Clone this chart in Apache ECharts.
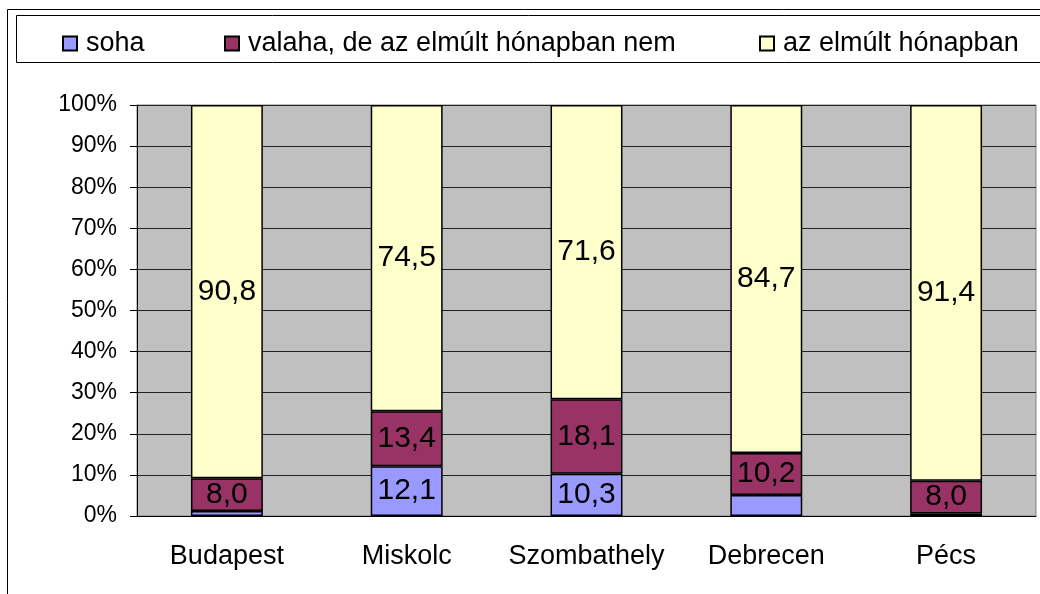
<!DOCTYPE html>
<html>
<head>
<meta charset="utf-8">
<title>Stacked 100% bars</title>
<script src="https://cdn.jsdelivr.net/npm/echarts@6/dist/echarts.min.js"></script>
<style>
  html, body { margin: 0; padding: 0; background: #fff; }
  #main { width: 1040px; height: 594px; }
</style>
</head>
<body>
<div id="main"></div>
<script>
// data
var cities = ['Budapest', 'Miskolc', 'Szombathely', 'Debrecen', 'Pécs'];
var soha = [1.2, 12.1, 10.3, 5.1, 0.6];
var valaha = [8.0, 13.4, 18.1, 10.2, 8.0];
var elmult = [90.8, 74.5, 71.6, 84.7, 91.4];
var names = ['soha', 'valaha, de az elmúlt hónapban nem', 'az elmúlt hónapban'];
var colors = ['#9999FF', '#993366', '#FFFFCC'];

var font = "'Liberation Sans', Arial, sans-serif";

function fmt(p) {
  if (p.value < 6) return '';
  return p.value.toFixed(1).replace('.', ',');
}

function mk(i, data) {
  return {
    name: names[i],
    type: 'bar',
    stack: 'all',
    barWidth: '40%',
    data: data,
    itemStyle: { color: colors[i], borderColor: '#000', borderWidth: 1.5 },
    label: {
      show: true, position: 'inside', formatter: fmt,
      color: '#000', fontSize: 30, fontFamily: font
    }
  };
}

var chart = echarts.init(document.getElementById('main'));
var legendText = { color: '#000', fontSize: 27, fontFamily: font, padding: [0, 0, 0, 4] };
function leg(i, x) {
  return { data: [names[i]], left: x, top: 25, icon: 'rect',
    itemWidth: 14, itemHeight: 14, textStyle: legendText };
}
chart.setOption({
  animation: false,
  graphic: [
    { type: 'rect', shape: { x: 7.5, y: 9.5, width: 1100, height: 700 },
      style: { fill: 'none', stroke: '#000', lineWidth: 1 }, z: -1 },
    { type: 'rect', shape: { x: 16.5, y: 15.5, width: 1100, height: 47 },
      style: { fill: '#fff', stroke: '#000', lineWidth: 1 }, z: -1 }
  ],
  legend: [leg(0, 57), leg(1, 219), leg(2, 754)],
  grid: {
    left: 137, right: 4, top: 105, bottom: 78,
    show: true, backgroundColor: '#C0C0C0', borderColor: '#808080', borderWidth: 1
  },
  xAxis: {
    type: 'category',
    data: cities,
    axisLine: { lineStyle: { color: '#000', width: 1 } },
    axisTick: { length: 10, lineStyle: { color: '#000' } },
    axisLabel: { color: '#000', fontSize: 27, fontFamily: font, margin: 27, interval: 0 }
  },
  yAxis: {
    type: 'value',
    min: 0, max: 100, interval: 10,
    axisLine: { show: true, lineStyle: { color: '#000', width: 1 } },
    axisTick: { show: true, length: 7, lineStyle: { color: '#000' } },
    axisLabel: { color: '#000', fontSize: 23, fontFamily: font, margin: 20, formatter: '{value}%' },
    splitLine: { lineStyle: { color: '#222', width: 1 } }
  },
  series: [mk(0, soha), mk(1, valaha), mk(2, elmult)]
});
</script>
</body>
</html>
